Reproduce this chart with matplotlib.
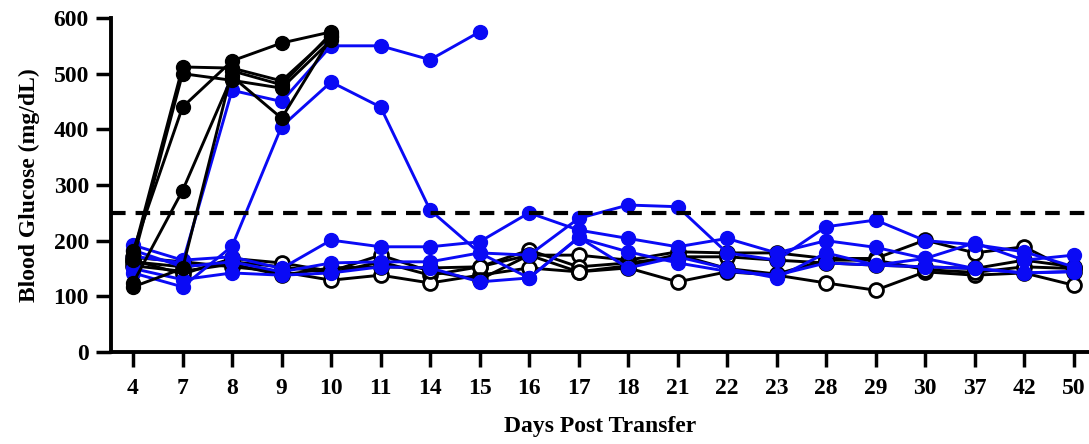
import matplotlib
matplotlib.use("Agg")
import matplotlib.pyplot as plt

days = ["4", "7", "8", "9", "10", "11", "14", "15", "16", "17",
        "18", "21", "22", "23", "28", "29", "30", "37", "42", "50"]

# Diabetic recipients (black, filled) - followed until day 10
diabetic_black = [
    [175, 512, 510, 487, 568],
    [165, 500, 488, 474, 560],
    [182, 440, 523, 555, 575],
    [124, 290, 495, 420, 565],
    [117, 150, 505, 480, 572],
]

# Blue, filled
blue_series = [
    [172, 160, 470, 450, 550, 550, 525, 575],
    [142, 117, 190, 405, 485, 440, 255, 178, 133, 205, 180, 160, 145, 138, 160, 156, 168, 150, 142, 145],
    [192, 165, 171, 150, 201, 189, 189, 198, 250, 219, 204, 189, 204, 178, 200, 188, 168, 196, 165, 174],
    [183, 153, 162, 144, 160, 162, 162, 178, 174, 240, 264, 261, 178, 165, 225, 237, 200, 193, 180, 153],
    [150, 130, 142, 138, 142, 153, 151, 126, 133, 206, 151, 171, 150, 133, 178, 156, 153, 150, 142, 144],
]

# Black, open
open_black = [
    [162, 153, 162, 153, 142, 162, 138, 153, 174, 174, 165, 180, 178, 178, 168, 168, 201, 178, 189, 144],
    [170, 162, 153, 144, 129, 138, 124, 138, 151, 144, 151, 126, 144, 138, 124, 111, 144, 138, 142, 120],
    [155, 145, 158, 138, 151, 153, 151, 153, 183, 153, 160, 171, 171, 165, 160, 156, 153, 150, 165, 153],
    [165, 140, 168, 160, 145, 174, 145, 130, 174, 144, 155, 175, 150, 140, 165, 165, 148, 143, 153, 150],
]

threshold = 250
y_ticks = [0, 100, 200, 300, 400, 500, 600]

BLUE = "#0a0af5"
plt.rcParams["font.family"] = ["Liberation Serif", "DejaVu Serif"]
plt.rcParams["font.weight"] = "bold"

fig = plt.figure(figsize=(10.89, 4.44), dpi=100)
ax = fig.add_axes([0.102, 0.2072, 0.898, 0.7523])

lw = 2.1
ms = 10

for s in open_black:
    ax.plot(range(len(s)), s, color="black", lw=lw, marker="o", ms=ms,
            mfc="white", mec="black", mew=2.0, clip_on=False, zorder=3)
for s in blue_series:
    ax.plot(range(len(s)), s, color=BLUE, lw=lw, marker="o", ms=ms,
            mfc=BLUE, mec=BLUE, clip_on=False, zorder=4)
for s in diabetic_black:
    ax.plot(range(len(s)), s, color="black", lw=lw, marker="o", ms=ms,
            mfc="black", mec="black", clip_on=False, zorder=5)

ax.axhline(threshold, color="black", lw=3, dashes=(3.5, 2.4), zorder=6)

ax.set_xlim(-0.444, 19.31)
ax.set_ylim(0, 600)
ax.set_xticks(range(len(days)))
ax.set_xticklabels(days)
ax.set_yticks(y_ticks)

for side in ("top", "right"):
    ax.spines[side].set_visible(False)
for side in ("left", "bottom"):
    ax.spines[side].set_linewidth(2.8)

ax.tick_params(axis="both", direction="out", length=11, width=2.5,
               labelsize=17)
ax.tick_params(axis="x", pad=8)
ax.tick_params(axis="y", pad=5)

ax.set_xlabel("Days Post Transfer", fontsize=17, fontweight="bold", labelpad=12)
ax.set_ylabel("Blood Glucose (mg/dL)", fontsize=17, fontweight="bold", labelpad=10)

fig.savefig("out.png", dpi=100)
